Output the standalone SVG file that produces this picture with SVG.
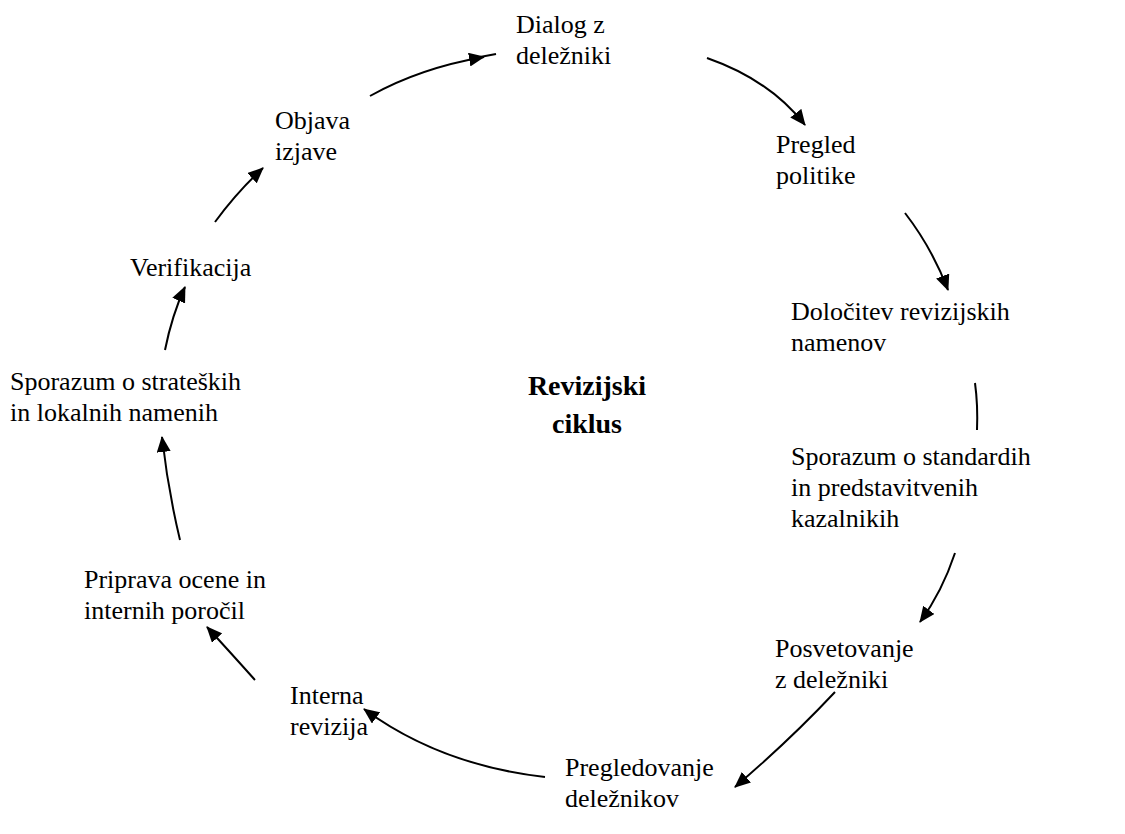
<svg xmlns="http://www.w3.org/2000/svg" width="1125" height="834" viewBox="0 0 1125 834">
<style>
text{font-family:"Liberation Serif","Times New Roman","DejaVu Serif",serif;font-size:26px;fill:#000}
.title{font-weight:bold;font-size:28px;text-anchor:middle}
.c{fill:none;stroke:#000;stroke-width:2}
</style>
<defs>
<marker id="ah" viewBox="0 0 16 14" refX="15" refY="7" markerWidth="16" markerHeight="14" markerUnits="userSpaceOnUse" orient="auto">
<path d="M0,0 L16,7 L0,14 Z" fill="#000"/>
</marker>
</defs>
<rect width="1125" height="834" fill="#fff"/>
<g id="n1"><text x="516" y="33">Dialog z</text><text x="516" y="64">deležniki</text></g>
<g id="n2"><text x="776" y="153">Pregled</text><text x="776" y="184">politike</text></g>
<g id="n3"><text x="791" y="320">Določitev revizijskih</text><text x="791" y="351">namenov</text></g>
<g id="n4"><text x="791" y="465">Sporazum o standardih</text><text x="791" y="496">in predstavitvenih</text><text x="791" y="527">kazalnikih</text></g>
<g id="n5"><text x="775" y="657">Posvetovanje</text><text x="775" y="688">z deležniki</text></g>
<g id="n6"><text x="565" y="776">Pregledovanje</text><text x="565" y="807">deležnikov</text></g>
<g id="n7"><text x="290" y="704">Interna</text><text x="290" y="735">revizija</text></g>
<g id="n8"><text x="84" y="588">Priprava ocene in</text><text x="84" y="619">internih poročil</text></g>
<g id="n9"><text x="10" y="390">Sporazum o strateških</text><text x="10" y="421">in lokalnih namenih</text></g>
<g id="n10"><text x="130" y="276">Verifikacija</text></g>
<g id="n11"><text x="275" y="129">Objava</text><text x="275" y="160">izjave</text></g>
<g id="center"><text class="title" x="587" y="395">Revizijski</text><text class="title" x="587" y="433">ciklus</text></g>
<g id="connectors">
<path class="c" d="M370,96 Q420,68 484,57" marker-end="url(#ah)"/>
<path class="c" d="M480,57 L496,54"/>
<path class="c" d="M707,58 Q770,80 805,125" marker-end="url(#ah)"/>
<path class="c" d="M905,213 Q932,248 948,290" marker-end="url(#ah)"/>
<path class="c" d="M975,383 Q978,405 977,430"/>
<path class="c" d="M955,553 Q942,592 920,622" marker-end="url(#ah)"/>
<path class="c" d="M835,692 Q790,740 735,787" marker-end="url(#ah)"/>
<path class="c" d="M545,777 Q440,765 364,709" marker-end="url(#ah)"/>
<path class="c" d="M255,680 Q230,652 207,627" marker-end="url(#ah)"/>
<path class="c" d="M180,540 Q168,490 162,437" marker-end="url(#ah)"/>
<path class="c" d="M165,350 Q172,315 185,287" marker-end="url(#ah)"/>
<path class="c" d="M215,222 Q237,192 263,168" marker-end="url(#ah)"/>
</g>
</svg>
